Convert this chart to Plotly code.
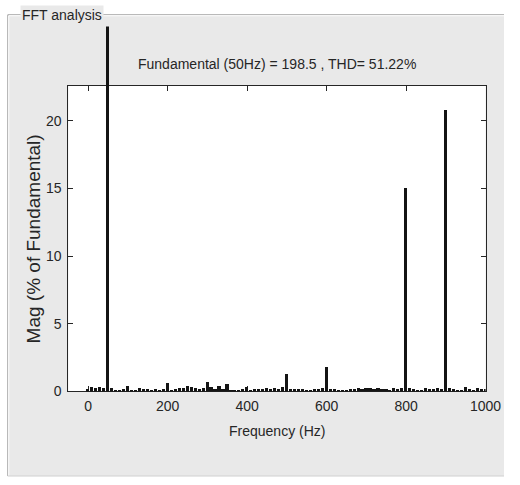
import plotly.graph_objects as go

# FFT spectrum, 10 Hz bins, magnitude in % of the fundamental
freq_hz = list(range(0, 1001, 10))
mag_pct = [
    0.25, 0.35, 0.30, 0.35, 0.30, 100.0, 0.30, 0.15, 0.10, 0.20,   # 0-90
    0.45, 0.10, 0.15, 0.30, 0.20, 0.25, 0.10, 0.20, 0.15, 0.25,    # 100-190
    0.65, 0.15, 0.20, 0.30, 0.30, 0.45, 0.35, 0.30, 0.20, 0.30,    # 200-290
    0.75, 0.35, 0.25, 0.45, 0.20, 0.55, 0.15, 0.15, 0.10, 0.20,    # 300-390
    0.35, 0.15, 0.25, 0.20, 0.20, 0.30, 0.20, 0.30, 0.25, 0.35,    # 400-490
    1.30, 0.20, 0.25, 0.25, 0.20, 0.10, 0.15, 0.25, 0.20, 0.30,    # 500-590
    1.85, 0.25, 0.20, 0.10, 0.10, 0.15, 0.20, 0.20, 0.30, 0.25,    # 600-690
    0.30, 0.30, 0.25, 0.30, 0.20, 0.25, 0.15, 0.30, 0.25, 0.30,    # 700-790
    15.1, 0.30, 0.20, 0.15, 0.10, 0.30, 0.25, 0.20, 0.30, 0.25,    # 800-890
    20.8, 0.30, 0.20, 0.15, 0.10, 0.35, 0.20, 0.15, 0.30, 0.20,    # 900-990
    0.25,                                                          # 1000
]
x_ticks = [0, 200, 400, 600, 800, 1000]
y_ticks = [0, 5, 10, 15, 20]
fundamental_hz = 50
fundamental_mag = 198.5
thd_pct = 51.22

# page geometry (pixels)
W, H = 520, 485
PLOT_L, PLOT_R, PLOT_T, PLOT_B = 70.5, 501, 87, 398
BAR_CLIP_T = 27          # tall bars may run above the axes up to here
PANEL_L, PANEL_T, PANEL_B = 8, 15, 484
X_RANGE = [-50, 1000]
Y_MAX = 22.6

PANEL_BG = "#e9e9e9"
EDGE = "#a3a3a3"
INK = "#262626"
FONT = "Liberation Sans, Arial, sans-serif"
FS = 14


def py(v):
    return 1 - v / H


def px(v):
    return v / W


fig = go.Figure()

# the visible axes box (empty trace so the subplot gets drawn)
fig.add_trace(go.Scatter(x=[], y=[], xaxis="x", yaxis="y",
                         hoverinfo="skip", showlegend=False))

# bars live on an overlaid pair of axes whose vertical scale equals the
# visible one but whose domain reaches higher, so the 100 % bar shows above
fig.add_trace(go.Bar(
    x=freq_hz, y=mag_pct, width=8,
    marker=dict(color="#141414", line=dict(width=0)),
    xaxis="x2", yaxis="y2", hoverinfo="x+y", showlegend=False,
))

shapes = [
    # panel
    dict(type="rect", xref="paper", yref="paper", layer="below",
         x0=px(PANEL_L), x1=1.0, y0=py(PANEL_B), y1=py(PANEL_T),
         fillcolor=PANEL_BG, line=dict(width=0)),
    # etched border
    dict(type="line", xref="paper", yref="paper", layer="below",
         x0=px(PANEL_L), x1=1.0, y0=py(PANEL_T), y1=py(PANEL_T),
         line=dict(color=EDGE, width=1)),
    dict(type="line", xref="paper", yref="paper", layer="below",
         x0=px(PANEL_L + 1), x1=1.0, y0=py(PANEL_T + 1), y1=py(PANEL_T + 1),
         line=dict(color="white", width=1)),
    dict(type="line", xref="paper", yref="paper", layer="below",
         x0=px(PANEL_L), x1=px(PANEL_L), y0=py(PANEL_B), y1=py(PANEL_T),
         line=dict(color=EDGE, width=1)),
    dict(type="line", xref="paper", yref="paper", layer="below",
         x0=px(PANEL_L + 1), x1=px(PANEL_L + 1), y0=py(PANEL_B), y1=py(PANEL_T + 1),
         line=dict(color="white", width=1)),
    dict(type="line", xref="paper", yref="paper", layer="below",
         x0=px(PANEL_L), x1=1.0, y0=py(PANEL_B), y1=py(PANEL_B),
         line=dict(color="#d0d0d0", width=1)),
    # axes background
    dict(type="rect", xref="paper", yref="paper", layer="below",
         x0=px(PLOT_L), x1=px(PLOT_R), y0=py(PLOT_B), y1=py(PLOT_T),
         fillcolor="white", line=dict(width=0)),
]

annotations = [
    dict(text="FFT analysis", xref="paper", yref="paper",
         x=px(PANEL_L + 13), y=py(PANEL_T), xanchor="left", yanchor="middle",
         showarrow=False, bgcolor=PANEL_BG, borderpad=1,
         font=dict(family=FONT, size=FS, color=INK)),
    dict(text=f"Fundamental ({fundamental_hz}Hz) = {fundamental_mag} , THD= {thd_pct}%",
         xref="paper", yref="paper",
         x=px((PLOT_L + PLOT_R) / 2), y=py(65), xanchor="center", yanchor="middle",
         showarrow=False, font=dict(family=FONT, size=FS, color=INK)),
    dict(text="Frequency (Hz)", xref="paper", yref="paper",
         x=px((PLOT_L + PLOT_R) / 2), y=py(438), xanchor="center", yanchor="middle",
         showarrow=False, font=dict(family=FONT, size=FS, color=INK)),
    dict(text="Mag (% of Fundamental)", xref="paper", yref="paper",
         x=px(35), y=py((PLOT_T + PLOT_B) / 2), xanchor="center", yanchor="middle",
         textangle=-90, showarrow=False,
         font=dict(family=FONT, size=19, color=INK)),
]

axis_common = dict(
    showgrid=False, zeroline=False, showline=True, linecolor=INK, linewidth=1,
    mirror="ticks", ticks="inside", ticklen=5, tickcolor=INK, tickwidth=1,
    tickfont=dict(family=FONT, size=FS, color=INK), fixedrange=True,
)

fig.update_layout(
    width=W, height=H,
    margin=dict(l=0, r=0, t=0, b=0),
    paper_bgcolor="white",
    plot_bgcolor="rgba(0,0,0,0)",
    showlegend=False,
    bargap=0,
    xaxis=dict(domain=[px(PLOT_L), px(PLOT_R)], range=X_RANGE,
               tickmode="array", tickvals=x_ticks,
               ticktext=[str(v) for v in x_ticks], anchor="y",
               ticklabelstandoff=2, **axis_common),
    yaxis=dict(domain=[py(PLOT_B), py(PLOT_T)], range=[0, Y_MAX],
               tickmode="array", tickvals=y_ticks,
               ticktext=[str(v) for v in y_ticks], anchor="x",
               ticklabelstandoff=3, **axis_common),
    xaxis2=dict(domain=[px(PLOT_L), px(PLOT_R)], range=X_RANGE, matches="x",
                visible=False, anchor="y2"),
    yaxis2=dict(domain=[py(PLOT_B), py(BAR_CLIP_T)],
                range=[0, Y_MAX * (PLOT_B - BAR_CLIP_T) / (PLOT_B - PLOT_T)],
                visible=False, anchor="x2", fixedrange=True),
    shapes=shapes,
    annotations=annotations,
)

fig.write_html("out.html")
